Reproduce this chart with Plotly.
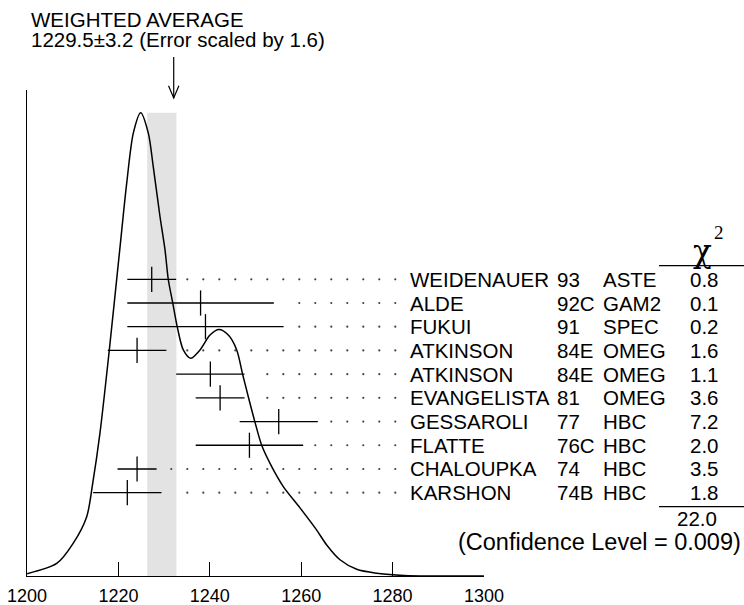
import plotly.graph_objects as go

# ---------------- data ----------------
names = ["WEIDENAUER", "ALDE", "FUKUI", "ATKINSON", "ATKINSON",
         "EVANGELISTA", "GESSAROLI", "FLATTE", "CHALOUPKA", "KARSHON"]
years = ["93", "92C", "91", "84E", "84E", "81", "77", "76C", "74", "74B"]
labs = ["ASTE", "GAM2", "SPEC", "OMEG", "OMEG", "OMEG", "HBC", "HBC", "HBC", "HBC"]
values = [1225, 1235, 1236, 1222, 1237, 1239, 1251, 1245, 1222, 1220]
errors = [5, 15, 16, 6, 7, 5, 8, 11, 4, 7]
chi2 = [0.8, 0.1, 0.2, 1.6, 1.1, 3.6, 7.2, 2.0, 3.5, 1.8]
chi2_total = 22.0
conf_level = 0.009
avg = 1229.5
avg_err = 3.2
err_scale = 1.6

# ideogram curve (relative height, peak = 1)
curve_x = [1199.5, 1205.55, 1208.95, 1211.69, 1212.92, 1214.41, 1216.32, 1218.51,
           1219.88, 1221.23, 1222.74, 1224.30, 1225.32, 1226.69, 1227.72, 1228.39,
           1229.29, 1230.24, 1231.46, 1232.98, 1234.88, 1236.93, 1238.77, 1240.68,
           1242.40, 1243.62, 1244.77, 1246.14, 1247.51, 1249.56, 1251.93, 1255.35,
           1258.77, 1260.82, 1263.54, 1266.96, 1271.05, 1275.82, 1279.92, 1293.0]
curve_y = [0.005, 0.027, 0.071, 0.128, 0.200, 0.309, 0.488, 0.710,
           0.848, 0.956, 1.000, 0.956, 0.883, 0.776, 0.704, 0.640,
           0.590, 0.537, 0.488, 0.470, 0.488, 0.520, 0.532, 0.520,
           0.488, 0.435, 0.387, 0.332, 0.282, 0.236, 0.193, 0.147,
           0.099, 0.067, 0.035, 0.0145, 0.006, 0.0015, 0.0, 0.0]

tick_vals = [1200, 1220, 1240, 1260, 1280, 1300]

# ---------------- layout helpers (pixel geometry) ----------------
W, H = 744, 605
L, R, T, B = 27, 260, 90, 29
PW, PH = W - L - R, H - T - B


def px(xp):
    return (xp - L) / PW


def py(yp):
    return (H - B - yp) / PH


FONT = "Liberation Sans, Arial, Helvetica, sans-serif"
fs = 20.5
n = len(names)
rows = list(range(n))

fig = go.Figure()

# ideogram curve
fig.add_trace(go.Scatter(x=curve_x, y=curve_y, xaxis="x2", yaxis="y",
                         mode="lines", line=dict(color="black", width=1.5, shape="spline", smoothing=0.8),
                         hoverinfo="skip", showlegend=False))

# dotted leaders
dot_start, dot_step = 1232.28, 3.275
dx, dy = [], []
for i in rows:
    end = values[i] + errors[i]
    for k in range(-1, 14):
        xk = dot_start + k * dot_step
        if xk >= end + 2.1:
            dx.append(xk)
            dy.append(i)
fig.add_trace(go.Scatter(x=dx, y=dy, xaxis="x2", yaxis="y2", mode="markers",
                         marker=dict(size=2.2, color="#444444"), hoverinfo="skip", showlegend=False))

# measurements with error bars
fig.add_trace(go.Scatter(x=values, y=rows, xaxis="x2", yaxis="y2", mode="markers",
                         marker=dict(symbol="line-ns-open", size=18, color="black",
                                     line=dict(width=1.3, color="black")),
                         error_x=dict(type="data", array=errors, visible=True, width=0,
                                      thickness=1.3, color="black"),
                         hoverinfo="skip", showlegend=False))

shapes = []
# weighted average band
shapes.append(dict(type="rect", xref="x", yref="y", x0=avg - avg_err, x1=avg + avg_err,
                   y0=0, y1=max(curve_y), fillcolor="#e3e3e3", line=dict(width=0), layer="below"))
# arrow
ah = 1.06
shapes.append(dict(type="line", xref="x2", yref="paper", x0=avg, x1=avg, y0=py(57), y1=py(98),
                   line=dict(color="black", width=1.2)))
shapes.append(dict(type="path", xref="x2", yref="paper",
                   path=f"M {avg - ah},{py(85.7)} L {avg},{py(98)} L {avg + ah},{py(85.7)}",
                   line=dict(color="black", width=1.2)))
# chi2 underlines
shapes.append(dict(type="line", xref="paper", yref="paper", x0=px(659), x1=px(744),
                   y0=py(265.7), y1=py(265.7), line=dict(color="black", width=1.3)))
shapes.append(dict(type="line", xref="paper", yref="paper", x0=px(659), x1=px(744),
                   y0=py(506.7), y1=py(506.7), line=dict(color="black", width=1.3)))

ann = []
ann.append(dict(text="WEIGHTED AVERAGE", xref="paper", yref="paper", x=px(29), y=py(19.7),
                xanchor="left", yanchor="middle", showarrow=False, font=dict(family=FONT, size=fs, color="black")))
ann.append(dict(text=f"{avg}\u00b1{avg_err} (Error scaled by {err_scale})", xref="paper", yref="paper",
                x=px(29), y=py(40), xanchor="left", yanchor="middle", showarrow=False,
                font=dict(family=FONT, size=fs, color="black")))
for i in rows:
    ann.append(dict(text=names[i], xref="paper", yref="y2", x=px(408), y=i, xanchor="left",
                    yanchor="middle", showarrow=False, font=dict(family=FONT, size=fs, color="black")))
    ann.append(dict(text=years[i], xref="paper", yref="y2", x=px(555), y=i, xanchor="left",
                    yanchor="middle", showarrow=False, font=dict(family=FONT, size=fs, color="black")))
    ann.append(dict(text=labs[i], xref="paper", yref="y2", x=px(601), y=i, xanchor="left",
                    yanchor="middle", showarrow=False, font=dict(family=FONT, size=fs, color="black")))
    ann.append(dict(text=f"{chi2[i]:.1f}", xref="paper", yref="y2", x=px(704), y=i, xanchor="center",
                    yanchor="middle", showarrow=False, font=dict(family=FONT, size=fs, color="black")))
# chi^2 header
ann.append(dict(text="\u03c7", xref="paper", yref="paper", x=px(702), y=py(251),
                xanchor="center", yanchor="middle", showarrow=False,
                font=dict(family="DejaVu Serif, Liberation Serif, serif", size=31, color="black")))
ann.append(dict(text="2", xref="paper", yref="paper", x=px(719), y=py(232),
                xanchor="center", yanchor="middle", showarrow=False,
                font=dict(family="Liberation Serif, Times New Roman, serif", size=19, color="black")))
ann.append(dict(text=f"{chi2_total:.1f}", xref="paper", yref="paper", x=px(697), y=py(518.3),
                xanchor="center", yanchor="middle", showarrow=False, font=dict(family=FONT, size=fs, color="black")))
ann.append(dict(text=f"(Confidence Level = {conf_level})", xref="paper", yref="paper", x=px(743),
                y=py(542), xanchor="right", yanchor="middle", showarrow=False,
                font=dict(family=FONT, size=23.5, color="black")))

# x2 range: measurement scale (px = 127.3 + (v-1220)*4.885)
x2_lo = 1220 + (L - 127.3) / 4.885
x2_hi = 1220 + (L + PW - 127.3) / 4.885
row_step = 23.71
y2_top = (T - 279.3) / row_step
y2_bot = (H - B - 279.3) / row_step

fig.update_layout(
    width=W, height=H, margin=dict(l=L, r=R, t=T, b=B, autoexpand=False),
    paper_bgcolor="white", plot_bgcolor="white",
    xaxis=dict(range=[1200, 1300], tickvals=tick_vals, ticktext=[str(t) for t in tick_vals],
               ticks="inside", ticklen=14, tickwidth=1.3, tickcolor="black", automargin=False,
               ticklabelstandoff=3,
               showline=True, linecolor="black", linewidth=1.3, showgrid=False, zeroline=False,
               tickfont=dict(family=FONT, size=18, color="black")),
    xaxis2=dict(range=[x2_lo, x2_hi], overlaying="x", visible=False, automargin=False),
    yaxis=dict(range=[0, PH / 463.3], showline=True, linecolor="black", linewidth=1.3, automargin=False,
               showticklabels=False, ticks="", showgrid=False, zeroline=False),
    yaxis2=dict(range=[y2_bot, y2_top], overlaying="y", visible=False, automargin=False),
    shapes=shapes, annotations=ann, showlegend=False,
)

fig.write_html("out.html", config={"displayModeBar": False},
               post_script="document.body.style.margin='0px';document.body.style.overflow='hidden';")
